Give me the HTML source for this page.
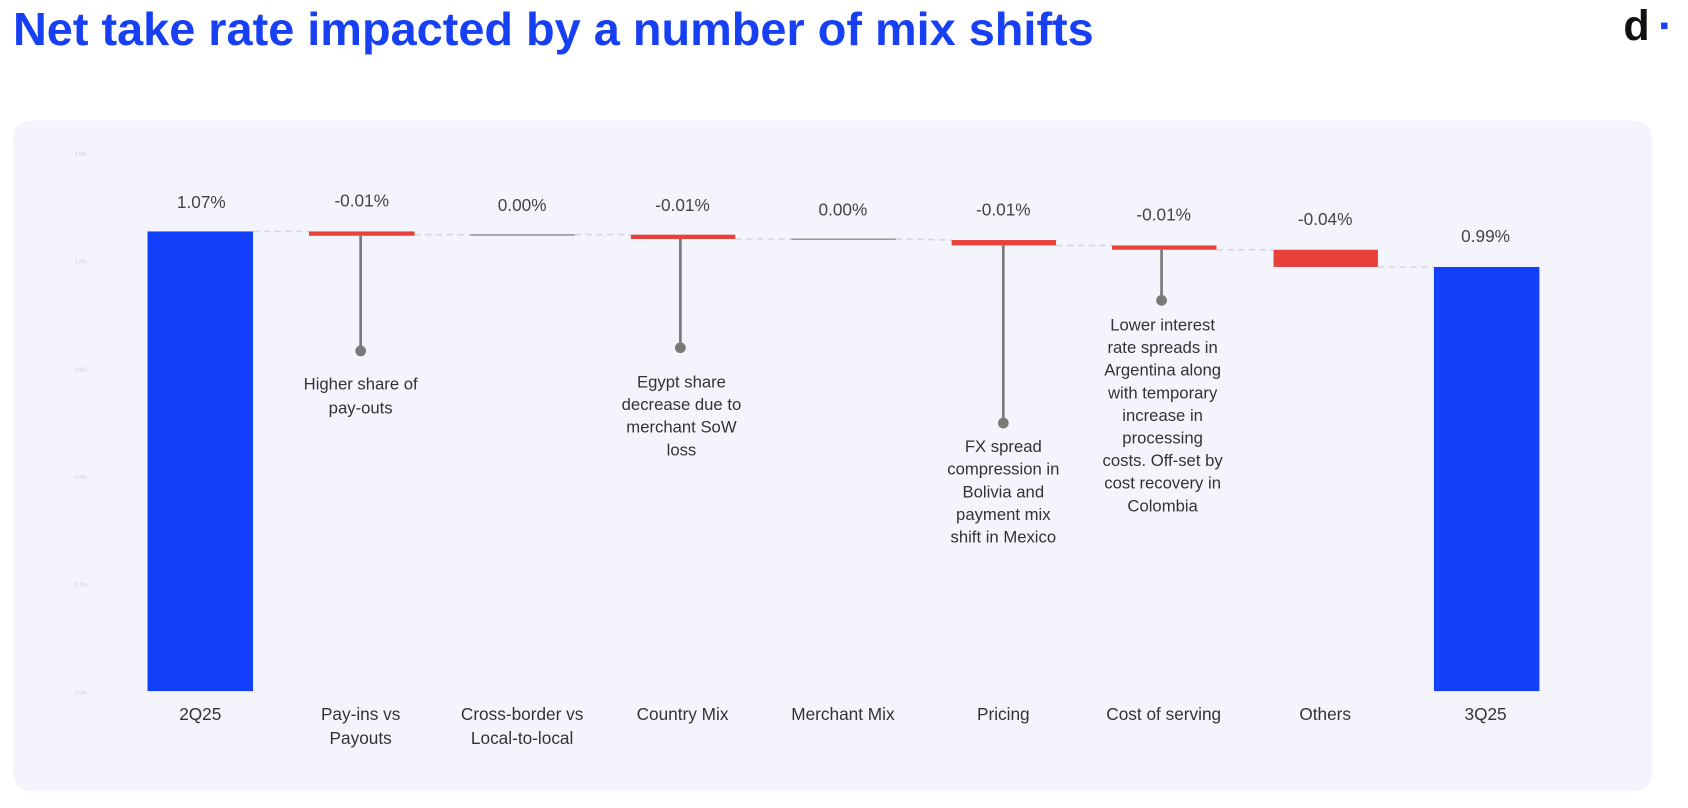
<!DOCTYPE html>
<html><head><meta charset="utf-8"><style>
html,body{margin:0;padding:0;background:#fff;width:1688px;height:808px;overflow:hidden}
svg{display:block}
text{font-family:"Liberation Sans",Arial,sans-serif}
</style></head><body>
<svg width="1688" height="808" viewBox="0 0 1568 750.6" xmlns="http://www.w3.org/2000/svg">
<text x="12" y="42" font-size="43" fill="#1740f5" font-weight="bold" textLength="1004" lengthAdjust="spacingAndGlyphs">Net take rate impacted by a number of mix shifts</text>
<text x="1508" y="37" font-size="40" font-weight="bold" fill="#111">d</text>
<rect x="1543" y="21" width="6" height="6" fill="#1740f5"/>
<rect x="12" y="112" width="1523" height="623" rx="16" fill="#f4f5fc"/>
<g font-size="5" fill="#ccc" text-anchor="middle">
<text x="75" y="145">1.5%</text><text x="75" y="245">1.0%</text><text x="75" y="345">0.8%</text><text x="75" y="445">0.5%</text><text x="75" y="545">0.3%</text><text x="75" y="645">0.0%</text>
</g>
<g stroke="#d6d6dc" stroke-width="1.5" stroke-dasharray="6,4">
<line x1="235" y1="215" x2="287" y2="215"/>
<line x1="385" y1="218" x2="437" y2="218"/>
<line x1="534" y1="218" x2="586" y2="218"/>
<line x1="683" y1="222" x2="735" y2="222"/>
<line x1="832" y1="222" x2="884" y2="223"/>
<line x1="981" y1="228" x2="1033" y2="228"/>
<line x1="1130" y1="232" x2="1183" y2="232"/>
<line x1="1280" y1="248" x2="1332" y2="248"/>
</g>
<rect x="137" y="215" width="98" height="427" fill="#1340fa"/>
<rect x="1332" y="248" width="98" height="394" fill="#1340fa"/>
<rect x="287" y="215" width="98" height="4" fill="#e8413a"/>
<rect x="437" y="217.5" width="97" height="1.5" fill="#999"/>
<rect x="586" y="218" width="97" height="4" fill="#e8413a"/>
<rect x="735" y="221.5" width="97" height="1.5" fill="#999"/>
<rect x="884" y="223" width="97" height="5" fill="#e8413a"/>
<rect x="1033" y="228" width="97" height="4" fill="#e8413a"/>
<rect x="1183" y="232" width="97" height="16" fill="#e8413a"/>
<g stroke="#7a7a7a" stroke-width="2.5">
<line x1="335" y1="219" x2="335" y2="326"/>
<line x1="632" y1="222" x2="632" y2="323"/>
<line x1="932" y1="228" x2="932" y2="393"/>
<line x1="1079" y1="232" x2="1079" y2="279"/>
</g>
<g fill="#7a7a7a"><circle cx="335" cy="326" r="5"/><circle cx="632" cy="323" r="5"/><circle cx="932" cy="393" r="5"/><circle cx="1079" cy="279" r="5"/></g>
<g font-size="16" fill="#444" text-anchor="middle">
<text x="187" y="193">1.07%</text><text x="336" y="192">-0.01%</text><text x="485" y="196">0.00%</text><text x="634" y="196">-0.01%</text><text x="783" y="200">0.00%</text><text x="932" y="200">-0.01%</text><text x="1081" y="205">-0.01%</text><text x="1231" y="209">-0.04%</text><text x="1380" y="225">0.99%</text>
</g>
<g font-size="15.5" fill="#333" text-anchor="middle">
<text x="335" y="362">Higher share of</text><text x="335" y="384">pay-outs</text>
<text x="633" y="360">Egypt share</text><text x="633" y="381">decrease due to</text><text x="633" y="402">merchant SoW</text><text x="633" y="423">loss</text>
<text x="932" y="420">FX spread</text><text x="932" y="441">compression in</text><text x="932" y="462">Bolivia and</text><text x="932" y="483">payment mix</text><text x="932" y="504">shift in Mexico</text>
<text x="1080" y="307">Lower interest</text><text x="1080" y="328">rate spreads in</text><text x="1080" y="349">Argentina along</text><text x="1080" y="370">with temporary</text><text x="1080" y="391">increase in</text><text x="1080" y="412">processing</text><text x="1080" y="433">costs. Off-set by</text><text x="1080" y="454">cost recovery in</text><text x="1080" y="475">Colombia</text>
</g>
<g font-size="16" fill="#333" text-anchor="middle">
<text x="186" y="669">2Q25</text>
<text x="335" y="669">Pay-ins vs</text><text x="335" y="691">Payouts</text>
<text x="485" y="669">Cross-border vs</text><text x="485" y="691">Local-to-local</text>
<text x="634" y="669">Country Mix</text>
<text x="783" y="669">Merchant Mix</text>
<text x="932" y="669">Pricing</text>
<text x="1081" y="669">Cost of serving</text>
<text x="1231" y="669">Others</text>
<text x="1380" y="669">3Q25</text>
</g>
</svg>
</body></html>
